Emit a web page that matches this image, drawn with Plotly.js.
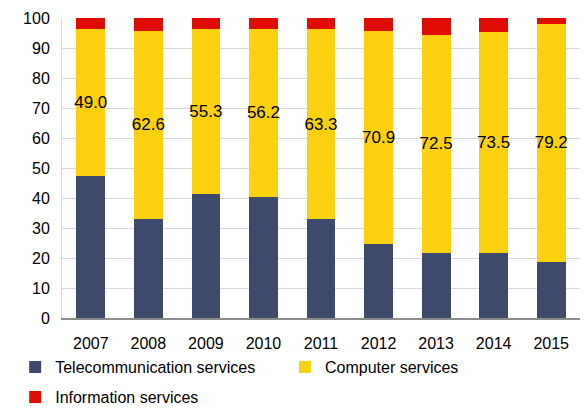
<!DOCTYPE html>
<html>
<head>
<meta charset="utf-8">
<script src="https://cdn.plot.ly/plotly-3.0.1.min.js"></script>
<style>
  html, body { margin: 0; padding: 0; background: #fff; }
  #chart { width: 584px; height: 408px; }
</style>
</head>
<body>
<div id="chart"></div>
<script>
// Shares of ICT services exports, % of total
const years = ['2007', '2008', '2009', '2010', '2011', '2012', '2013', '2014', '2015'];
const telecom = [47.5, 33.1, 41.2, 40.3, 32.9, 24.8, 21.8, 21.7, 18.8];
const computer = [49.0, 62.6, 55.3, 56.2, 63.3, 70.9, 72.5, 73.5, 79.2];
const information = [3.5, 4.3, 3.5, 3.5, 3.8, 4.3, 5.7, 4.8, 2.0];

const FONT = 'Liberation Sans, Arial, sans-serif';

const traces = [
  {
    type: 'bar', name: 'Telecommunication services',
    x: years, y: telecom,
    marker: { color: '#3d4a6b' },
    legend: 'legend',
    hoverinfo: 'skip'
  },
  {
    type: 'bar', name: 'Computer services',
    x: years, y: computer,
    marker: { color: '#fad00f' },
    text: computer.map(v => v.toFixed(1)),
    textposition: 'inside',
    insidetextanchor: 'middle',
    textangle: 0,
    constraintext: 'none',
    textfont: { family: FONT, size: 17, color: '#000' },
    legend: 'legend2',
    hoverinfo: 'skip'
  },
  {
    type: 'bar', name: 'Information services',
    x: years, y: information,
    marker: { color: '#e00d05' },
    legend: 'legend3',
    hoverinfo: 'skip'
  }
];

// one single-entry legend per series, laid out in two rows under the axis
const legendBase = {
  orientation: 'h',
  xref: 'container', yref: 'container',
  xanchor: 'left',
  yanchor: 'middle',
  font: { family: FONT, size: 16, color: '#000' },
  bgcolor: 'rgba(0,0,0,0)',
  itemwidth: 30,
  itemclick: false, itemdoubleclick: false
};
const row1 = (408 - 367) / 408;
const row2 = (408 - 397) / 408;

const layout = {
  width: 584, height: 408,
  margin: { l: 62, r: 4, t: 18, b: 90 },
  paper_bgcolor: '#fff', plot_bgcolor: '#fff',
  barmode: 'stack',
  bargap: 0.5,
  font: { family: FONT, size: 16, color: '#000' },
  xaxis: {
    type: 'category',
    showgrid: false,
    showline: true, linecolor: '#8c8c8c', linewidth: 1.5,
    ticks: '',
    ticklabelstandoff: 10,
    tickfont: { family: FONT, size: 16, color: '#000' },
    fixedrange: true
  },
  yaxis: {
    range: [0, 100],
    dtick: 10,
    showgrid: true, gridcolor: '#d9d9d9', gridwidth: 1,
    showline: true, linecolor: '#d9d9d9', linewidth: 1,
    zeroline: false,
    ticks: '',
    ticklabelstandoff: 8,
    tickfont: { family: FONT, size: 16, color: '#000' },
    fixedrange: true
  },
  showlegend: true,
  legend: Object.assign({}, legendBase, { x: 0.026, y: row1 }),
  legend2: Object.assign({}, legendBase, { x: 0.488, y: row1 }),
  legend3: Object.assign({}, legendBase, { x: 0.026, y: row2 })
};

Plotly.newPlot('chart', traces, layout, { displayModeBar: false, staticPlot: true });
</script>
</body>
</html>
